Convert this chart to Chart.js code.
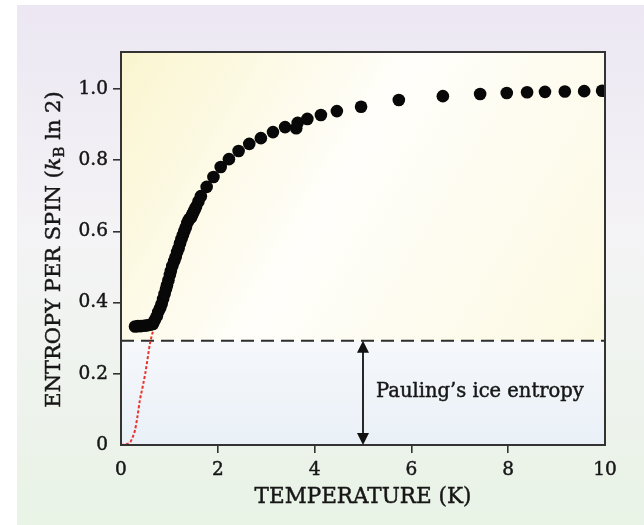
<!DOCTYPE html>
<html>
<head>
<meta charset="utf-8">
<script src="https://cdn.jsdelivr.net/npm/chart.js@4.4.1/dist/chart.umd.min.js"></script>
<style>
  html, body { margin: 0; padding: 0; background: #ffffff; }
  #wrap { width: 644px; height: 525px; }
</style>
</head>
<body>
<div id="wrap"><canvas id="c" width="644" height="525"></canvas></div>
<script>
// Measured entropy per spin (units of kB ln 2) against temperature (K)
const tempK = [
  0.29, 0.35, 0.41, 0.475, 0.54, 0.60,
  0.66, 0.70, 0.74, 0.77, 0.81, 0.84, 0.87, 0.90, 0.93, 0.95, 0.98,
  1.01, 1.03, 1.06, 1.10, 1.13, 1.16, 1.19, 1.22, 1.25, 1.28, 1.31,
  1.34, 1.37, 1.40, 1.42, 1.45, 1.47, 1.49, 1.52,
  1.55, 1.60, 1.65, 1.77, 1.91, 2.06, 2.23, 2.43, 2.65, 2.89, 3.14, 3.39,
  3.62, 3.65, 3.85, 4.13, 4.46, 4.96, 5.74, 6.65, 7.42, 7.97, 8.39,
  8.76, 9.17, 9.57, 9.94
];
const entropy = [
  0.333, 0.334, 0.334, 0.335, 0.336, 0.338,
  0.340, 0.351, 0.362, 0.374, 0.385, 0.396, 0.410, 0.424, 0.438, 0.449, 0.463,
  0.478, 0.489, 0.503, 0.517, 0.528, 0.542, 0.553, 0.567, 0.579, 0.590, 0.601,
  0.612, 0.624, 0.632, 0.636, 0.640, 0.646, 0.652, 0.660,
  0.669, 0.684, 0.699, 0.725, 0.753, 0.781, 0.803, 0.826, 0.846, 0.862, 0.879, 0.893,
  0.890, 0.905, 0.916, 0.927, 0.938, 0.950, 0.969, 0.980, 0.986, 0.989, 0.991,
  0.992, 0.993, 0.994, 0.995
];

// Low-temperature extrapolation (red dotted curve)
const lowTempK = [0, 0.10, 0.19, 0.25, 0.29, 0.34, 0.39, 0.45, 0.50, 0.55, 0.60, 0.68];
const lowEntropy = [0, 0.002, 0.008, 0.025, 0.042, 0.080, 0.126, 0.165, 0.200, 0.243, 0.286, 0.330];

// Pauling's residual entropy level and where its arrow sits
const paulingLevel = [0.293, 0.293];
const paulingSpanK = [0, 10];
const arrowAtK = 5;
const paulingLabel = 'Pauling\u2019s ice entropy';
const labelAtK = 5.27;
const labelAtS = 0.149;

const xTickValues = [0, 2, 4, 6, 8, 10];
const yTickValues = [0, 0.2, 0.4, 0.6, 0.8, 1.0];
const xTitle = 'TEMPERATURE (K)';
const yTitleParts = ['ENTROPY PER SPIN (', 'k', 'B', ' ln 2)'];

const SERIF = '"DejaVu Serif", "Liberation Serif", serif';
const INK = '#161616';

// draws text with a hairline stroke so the serif face reads a little heavier
function heavyText(ctx, text, x, y) {
  ctx.lineWidth = 0.45;
  ctx.strokeStyle = INK;
  ctx.strokeText(text, x, y);
  ctx.fillText(text, x, y);
}

const backdrop = {
  id: 'backdrop',
  beforeDraw(chart) {
    const { ctx, chartArea: a, scales } = chart;
    ctx.save();
    ctx.fillStyle = '#ffffff';
    ctx.fillRect(0, 0, chart.width, chart.height);
    const g = ctx.createLinearGradient(0, 5, 0, chart.height);
    g.addColorStop(0, '#ece7f3');
    g.addColorStop(0.45, '#f4f3f5');
    g.addColorStop(1, '#e9f3e6');
    ctx.fillStyle = g;
    ctx.fillRect(17, 5, chart.width - 17, chart.height - 5);

    const yP = scales.y.getPixelForValue(paulingLevel[0]);
    const gu = ctx.createLinearGradient(a.left, a.top, a.right, yP);
    gu.addColorStop(0, '#faf5cf');
    gu.addColorStop(0.45, '#fffefa');
    gu.addColorStop(1, '#fcf9e2');
    ctx.fillStyle = gu;
    ctx.fillRect(a.left, a.top, a.right - a.left, yP - a.top);
    const gl = ctx.createLinearGradient(0, yP, 0, a.bottom);
    gl.addColorStop(0, '#f6f8fb');
    gl.addColorStop(1, '#e9f0f7');
    ctx.fillStyle = gl;
    ctx.fillRect(a.left, yP, a.right - a.left, a.bottom - yP);
    ctx.restore();
  }
};

const decorations = {
  id: 'decorations',
  afterDraw(chart) {
    const { ctx, chartArea: a, scales } = chart;
    ctx.save();
    // frame
    ctx.strokeStyle = '#333333';
    ctx.lineWidth = 2;
    ctx.strokeRect(a.left, a.top, a.right - a.left, a.bottom - a.top);

    // double-headed arrow spanning Pauling's entropy
    const ax = scales.x.getPixelForValue(arrowAtK);
    const y0 = scales.y.getPixelForValue(0);
    const y1 = scales.y.getPixelForValue(paulingLevel[0]);
    const head = 12, half = 6;
    ctx.strokeStyle = '#111111';
    ctx.fillStyle = '#111111';
    ctx.lineWidth = 1.8;
    ctx.beginPath();
    ctx.moveTo(ax, y1 + head - 1);
    ctx.lineTo(ax, y0 - head + 1);
    ctx.stroke();
    ctx.beginPath();
    ctx.moveTo(ax, y1);
    ctx.lineTo(ax - half, y1 + head);
    ctx.lineTo(ax + half, y1 + head);
    ctx.closePath();
    ctx.fill();
    ctx.beginPath();
    ctx.moveTo(ax, y0);
    ctx.lineTo(ax - half, y0 - head);
    ctx.lineTo(ax + half, y0 - head);
    ctx.closePath();
    ctx.fill();

    // annotation
    ctx.fillStyle = INK;
    ctx.font = '19.5px ' + SERIF;
    ctx.textAlign = 'left';
    ctx.textBaseline = 'middle';
    heavyText(ctx, paulingLabel, scales.x.getPixelForValue(labelAtK), scales.y.getPixelForValue(labelAtS));

    // x-axis title
    ctx.font = '21.5px ' + SERIF;
    ctx.textAlign = 'center';
    heavyText(ctx, xTitle, (a.left + a.right) / 2, 497);

    // y-axis title with italic k and subscript B
    const main = '21px ' + SERIF;
    const ital = 'italic 21px ' + SERIF;
    const sub = '15px ' + SERIF;
    const fonts = [main, ital, sub, main];
    const widths = yTitleParts.map((t, i) => { ctx.font = fonts[i]; return ctx.measureText(t).width; });
    const total = widths.reduce((s, w) => s + w, 0);
    ctx.translate(52, (a.top + a.bottom) / 2 + 1);
    ctx.rotate(-Math.PI / 2);
    ctx.textAlign = 'left';
    ctx.textBaseline = 'alphabetic';
    let x = -total / 2;
    const base = 7.5;
    yTitleParts.forEach((t, i) => {
      ctx.font = fonts[i];
      heavyText(ctx, t, x, i === 2 ? base + 4 : base);
      x += widths[i];
    });
    ctx.restore();
  }
};

const tickFont = { family: SERIF, size: 18.5 };

new Chart(document.getElementById('c'), {
  type: 'scatter',
  data: {
    datasets: [
      {
        label: 'Entropy',
        data: tempK.map((t, i) => ({ x: t, y: entropy[i] })),
        backgroundColor: '#080808',
        borderWidth: 0,
        pointRadius: 6.3,
        pointHoverRadius: 6.3
      },
      {
        label: 'Extrapolation',
        type: 'line',
        data: lowTempK.map((t, i) => ({ x: t, y: lowEntropy[i] })),
        borderColor: '#e8322b',
        borderWidth: 2,
        borderDash: [3, 2],
        pointRadius: 0,
        cubicInterpolationMode: 'monotone',
        fill: false
      },
      {
        label: 'Pauling',
        type: 'line',
        data: paulingSpanK.map((t, i) => ({ x: t, y: paulingLevel[i] })),
        borderColor: '#2e2e2e',
        borderWidth: 2,
        borderDash: [13, 7],
        pointRadius: 0,
        fill: false
      }
    ]
  },
  options: {
    responsive: false,
    animation: false,
    devicePixelRatio: 1,
    layout: { padding: { top: 52, right: 39, left: 0, bottom: 0 } },
    plugins: { legend: { display: false }, tooltip: { enabled: false } },
    scales: {
      x: {
        type: 'linear',
        min: 0,
        max: 10,
        afterBuildTicks(s) { s.ticks = xTickValues.map(v => ({ value: v })); },
        afterFit(s) { s.height = 80; },
        ticks: {
          font: tickFont,
          color: INK,
          padding: 6,
          maxRotation: 0,
          textStrokeColor: INK,
          textStrokeWidth: 0.45,
          callback: v => String(v)
        },
        grid: {
          drawOnChartArea: false,
          tickLength: 8,
          lineWidth: 1.6,
          color: ctx => (ctx.tick && (ctx.tick.value === 0 || ctx.tick.value === 10)) ? 'rgba(0,0,0,0)' : '#333333'
        },
        border: { display: true, color: '#333333', width: 2 }
      },
      y: {
        type: 'linear',
        min: 0,
        max: 1.104,
        afterBuildTicks(s) { s.ticks = yTickValues.map(v => ({ value: v })); },
        afterFit(s) { s.width = 121; },
        ticks: {
          font: tickFont,
          color: INK,
          padding: 5,
          textStrokeColor: INK,
          textStrokeWidth: 0.45,
          callback: v => (v === 0 ? '0' : v.toFixed(1))
        },
        grid: {
          drawOnChartArea: false,
          tickLength: 8,
          lineWidth: 1.6,
          color: ctx => (ctx.tick && ctx.tick.value === 0) ? 'rgba(0,0,0,0)' : '#333333'
        },
        border: { display: true, color: '#333333', width: 2 }
      }
    }
  },
  plugins: [backdrop, decorations]
});
</script>
</body>
</html>
